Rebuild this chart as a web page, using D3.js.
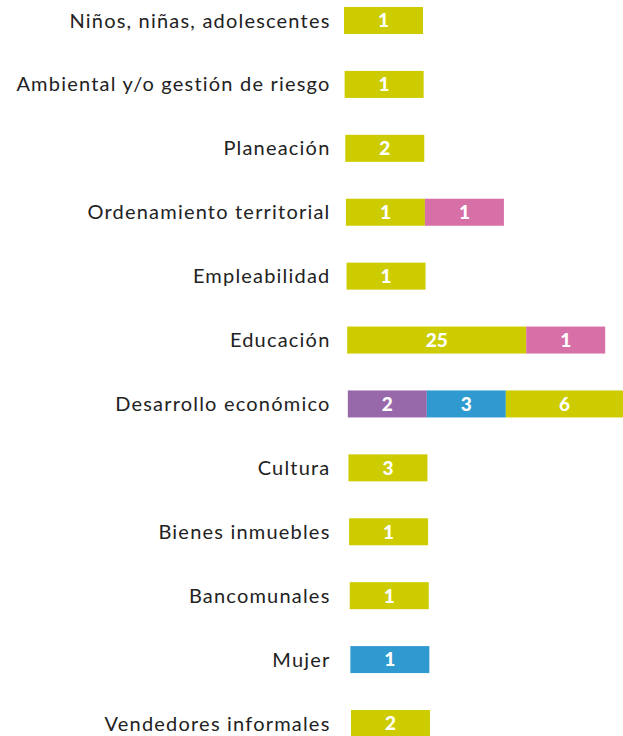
<!DOCTYPE html>
<html>
<head>
<meta charset="utf-8">
<script src="https://cdn.jsdelivr.net/npm/d3@7"></script>
<style>
  html, body { margin: 0; padding: 0; background: #ffffff; }
  svg { display: block; }
</style>
</head>
<body>
<svg id="chart" width="623" height="736"></svg>
<script>
// ---- Data ----
const categories = [
  "Niños, niñas, adolescentes",
  "Ambiental y/o gestión de riesgo",
  "Planeación",
  "Ordenamiento territorial",
  "Empleabilidad",
  "Educación",
  "Desarrollo económico",
  "Cultura",
  "Bienes inmuebles",
  "Bancomunales",
  "Mujer",
  "Vendedores informales"
];
const seriesKeys = ["morado", "azul", "verde", "rosa"];
const morado = [0, 0, 0, 0, 0, 0, 2, 0, 0, 0, 0, 0];
const azul   = [0, 0, 0, 0, 0, 0, 3, 0, 0, 0, 1, 0];
const verde  = [1, 1, 2, 1, 1, 25, 6, 3, 1, 1, 0, 2];
const rosa   = [0, 0, 0, 1, 0, 1, 0, 0, 0, 0, 0, 0];
const colors = ["#9869aa", "#2e9ad0", "#cccc00", "#d870a8"];

const seriesValues = { morado, azul, verde, rosa };

// ---- Build rows ----
const rows = categories.map((c, i) => {
  const r = { category: c, index: i };
  seriesKeys.forEach(k => r[k] = seriesValues[k][i]);
  return r;
});

const svg = d3.select("#chart");

// y: point scale for row centers
const y = d3.scalePoint().domain(categories).range([20.5, 723.5]);
// bar start drifts slightly per row
const xStart = d3.scaleLinear().domain([0, categories.length - 1]).range([344, 351]);
// segment width scale (non-proportional, as in the original)
const w = d3.scaleLinear().domain([3, 6, 25]).range([79, 118, 179]).clamp(true);
const color = d3.scaleOrdinal().domain(seriesKeys).range(colors);
const barH = 27;

// labels
svg.append("g")
  .selectAll("text")
  .data(rows)
  .join("text")
  .attr("x", 330.5)
  .attr("y", d => y(d.category))
  .attr("dy", "0.35em")
  .attr("text-anchor", "end")
  .attr("fill", "#222222")
  .style("font-family", "Lato, 'Open Sans', sans-serif")
  .style("font-size", "20px")
  .style("letter-spacing", "1.2px")
  .text(d => d.category);

// segments
const segs = [];
rows.forEach(r => {
  let x0 = xStart(r.index);
  seriesKeys.forEach(k => {
    const v = r[k];
    if (v > 0) {
      const ww = w(v);
      segs.push({ key: k, value: v, x: x0, width: ww, category: r.category });
      x0 += ww;
    }
  });
});

const g = svg.append("g");
g.selectAll("rect")
  .data(segs)
  .join("rect")
  .attr("x", d => d.x)
  .attr("y", d => y(d.category) - barH / 2)
  .attr("width", d => d.width)
  .attr("height", barH)
  .attr("fill", d => color(d.key));

g.selectAll("text")
  .data(segs)
  .join("text")
  .attr("x", d => d.x + Math.min(d.width, 623 - d.x) / 2)
  .attr("y", d => y(d.category))
  .attr("dy", "0.36em")
  .attr("text-anchor", "middle")
  .attr("fill", "#ffffff")
  .style("font-family", "Lato, sans-serif")
  .style("font-weight", "900")
  .style("font-size", "19px")
  .text(d => d.value);
</script>
</body>
</html>
